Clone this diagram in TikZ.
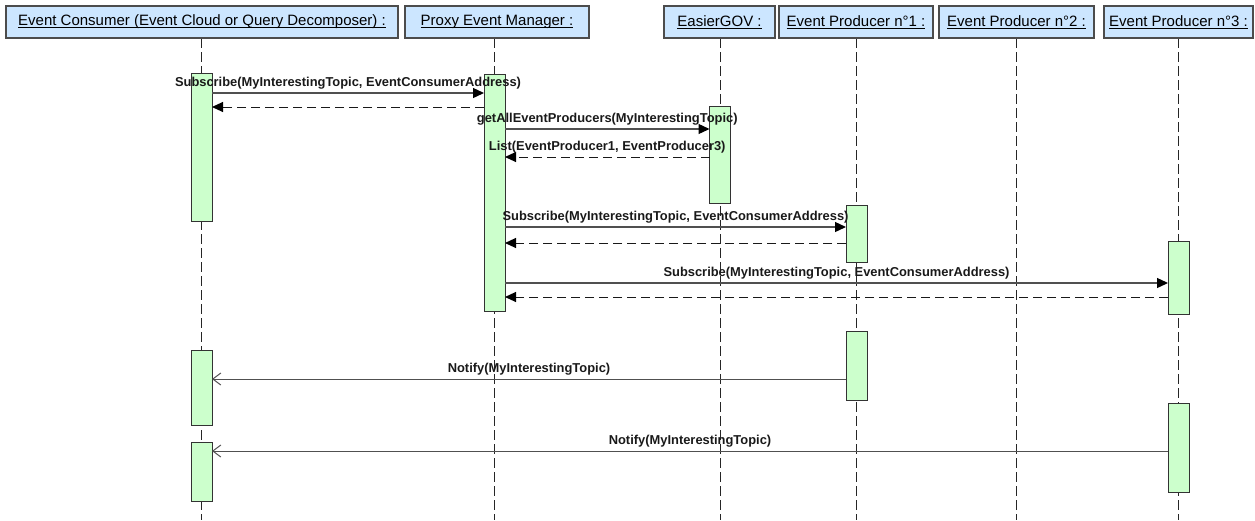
\documentclass[tikz,border=0pt]{standalone}
\usepackage{fontspec}
\setmainfont{Liberation Sans}
\usetikzlibrary{arrows.meta,backgrounds}
\definecolor{headblue}{RGB}{204,230,255}
\definecolor{actgreen}{RGB}{204,255,204}
\definecolor{msggray}{RGB}{80,80,80}
% underlined object name, rule placed just under the baseline
\newcommand\ulabel[1]{\setbox0\hbox{#1}\rlap{\rule[-2.4pt]{\wd0}{0.9pt}}\box0}

\begin{document}
\begin{tikzpicture}[x=1pt,y=-1pt,
  header/.style={draw=black!70, fill=headblue, line width=1.1pt, minimum height=32pt,
    inner sep=0pt, outer sep=0pt, font=\fontsize{15}{18}\selectfont},
  act/.style={draw=black!80, fill=actgreen, line width=1pt, minimum width=21pt,
    inner sep=0pt, outer sep=0pt},
  lifeline/.style={draw=black!85, line width=1pt, dash pattern=on 10pt off 4pt},
  call/.style={draw=msggray, line width=1.3pt, -{Triangle[length=11pt,width=10pt,color=black]}},
  reply/.style={draw=black!90, line width=1pt, dash pattern=on 9pt off 5pt,
    -{Triangle[length=11pt,width=10pt,color=black]}},
  notify/.style={draw=msggray, line width=1pt, -{Straight Barb[length=8pt,width=12pt]}},
  lbl/.style={midway, anchor=base, yshift=7pt, inner sep=0pt,
    font=\fontsize{12.9}{15}\selectfont\bfseries, text=black!90}
]
\useasboundingbox (0,0) rectangle (1255,520);
\coordinate (bot) at (0,520);

% object headers
\node[header, minimum width=392pt] (h1) at (202,22)    {\ulabel{Event Consumer (Event Cloud or Query Decomposer) :}};
\node[header, minimum width=184pt] (h2) at (497,22)    {\ulabel{Proxy Event Manager :}};
\node[header, minimum width=111pt] (h3) at (719.5,22)  {\ulabel{EasierGOV :}};
\node[header, minimum width=154pt] (h4) at (856,22)    {\ulabel{Event Producer n°1 :}};
\node[header, minimum width=155pt] (h5) at (1016.5,22) {\ulabel{Event Producer n°2 :}};
\node[header, minimum width=149pt] (h6) at (1178.5,22) {\ulabel{Event Producer n°3 :}};

% activation bars
\node[act, minimum height=148pt] (ca1)  at (201.5,147)   {};
\node[act, minimum height=237pt] (pa1)  at (494.5,192.5) {};
\node[act, minimum height=97pt]  (ga1)  at (720,154.5)   {};
\node[act, minimum height=57pt]  (e1a1) at (856.5,233.5) {};
\node[act, minimum height=73pt]  (e3a1) at (1178.5,277.5) {};
\node[act, minimum height=69pt]  (e1a2) at (856.5,365.5) {};
\node[act, minimum height=75pt]  (ca2)  at (201.5,387.5) {};
\node[act, minimum height=89pt]  (e3a2) at (1178.5,447.5) {};
\node[act, minimum height=59pt]  (ca3)  at (201.5,471.5) {};

% lifelines behind everything
\begin{scope}[on background layer]
  \draw[lifeline] (h1.south -| ca1.center) -- (ca1.center |- bot);
  \draw[lifeline] (h2.south -| pa1.center) -- (pa1.center |- bot);
  \draw[lifeline] (h3.south -| ga1.center) -- (ga1.center |- bot);
  \draw[lifeline] (h4.south -| e1a1.center) -- (e1a1.center |- bot);
  \draw[lifeline] (h5.south) -- (h5.south |- bot);
  \draw[lifeline] (h6.south -| e3a1.center) -- (e3a1.center |- bot);
\end{scope}

% message heights
\coordinate (m1) at (0,93);
\coordinate (m2) at (0,107);
\coordinate (m3) at (0,129);
\coordinate (m4) at (0,157);
\coordinate (m5) at (0,227);
\coordinate (m6) at (0,243);
\coordinate (m7) at (0,283);
\coordinate (m8) at (0,297);
\coordinate (m9) at (0,379);
\coordinate (m10) at (0,451);

% messages
\draw[call]  (ca1.east |- m1) -- node[lbl]{Subscribe(MyInterestingTopic, EventConsumerAddress)} (pa1.west |- m1);
\draw[reply] (pa1.west |- m2) -- (ca1.east |- m2);
\draw[call]  (pa1.east |- m3) -- node[lbl]{getAllEventProducers(MyInterestingTopic)} (ga1.west |- m3);
\draw[reply] (ga1.west |- m4) -- node[lbl]{List(EventProducer1, EventProducer3)} (pa1.east |- m4);
\draw[call]  (pa1.east |- m5) -- node[lbl]{Subscribe(MyInterestingTopic, EventConsumerAddress)} (e1a1.west |- m5);
\draw[reply] (e1a1.west |- m6) -- (pa1.east |- m6);
\draw[call]  (pa1.east |- m7) -- node[lbl]{Subscribe(MyInterestingTopic, EventConsumerAddress)} (e3a1.west |- m7);
\draw[reply] (e3a1.west |- m8) -- (pa1.east |- m8);
\draw[notify] (e1a2.west |- m9) -- node[lbl]{Notify(MyInterestingTopic)} (ca2.east |- m9);
\draw[notify] (e3a2.west |- m10) -- node[lbl]{Notify(MyInterestingTopic)} (ca3.east |- m10);
\end{tikzpicture}
\end{document}
